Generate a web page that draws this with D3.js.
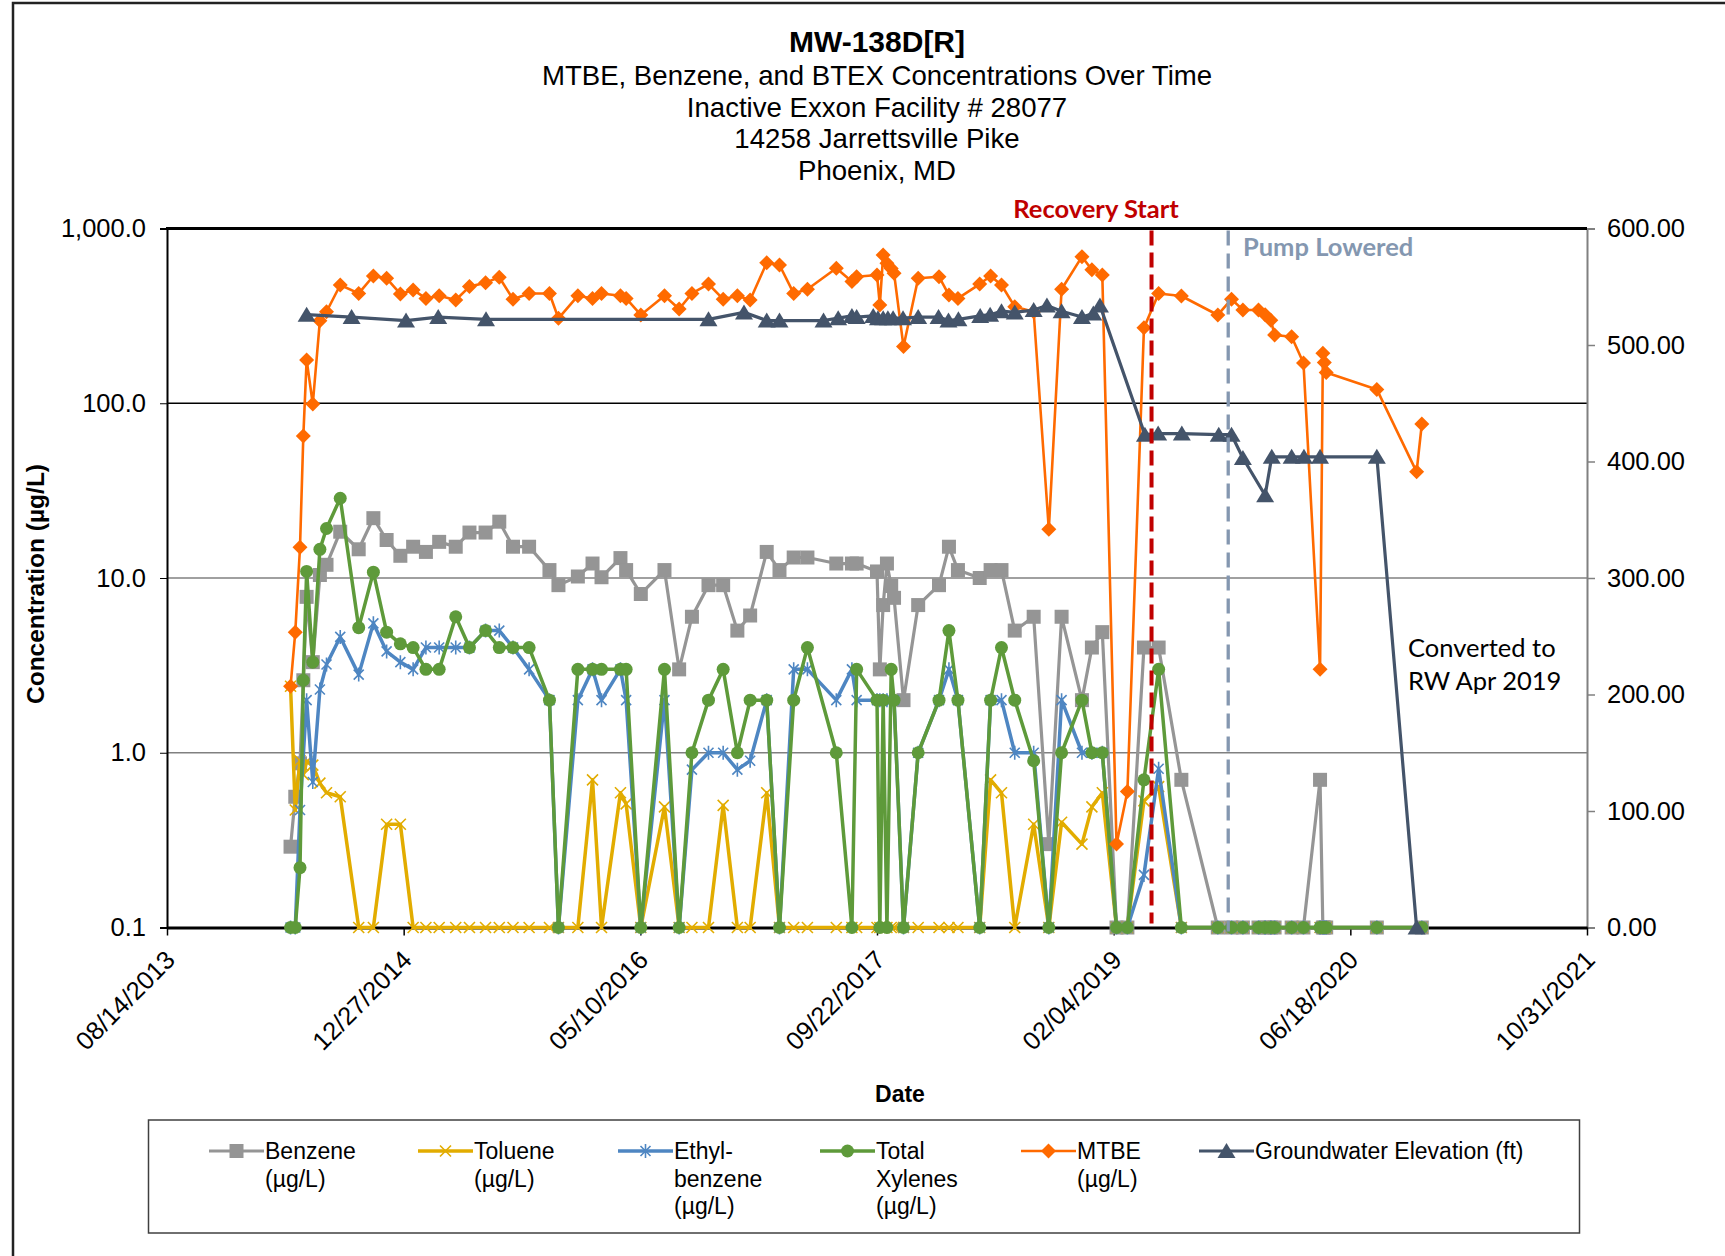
<!DOCTYPE html>
<html>
<head>
<meta charset="utf-8">
<script src="https://cdn.jsdelivr.net/npm/d3@7"></script>
<style>
  body { margin: 0; background: #fff; }
  svg { display: block; }
</style>
</head>
<body>
<svg id="chart" width="1725" height="1256"></svg>
<script>
// sampling events (lab analytes share the same dates)
const sampleDates = [
  "2014-05-02","2014-05-12","2014-05-22","2014-05-29","2014-06-05","2014-06-18","2014-07-03","2014-07-17","2014-08-15","2014-09-23",
  "2014-10-24","2014-11-21","2014-12-20","2015-01-16","2015-02-12","2015-03-12","2015-04-16","2015-05-15","2015-06-18","2015-07-17",
  "2015-08-15","2015-09-18","2015-10-31","2015-11-19","2015-12-30","2016-01-30","2016-02-18","2016-03-29","2016-04-10","2016-05-11",
  "2016-06-30","2016-07-31","2016-08-27","2016-10-01","2016-11-01","2016-12-01","2016-12-28","2017-02-01","2017-02-28","2017-03-30",
  "2017-04-28","2017-06-28","2017-07-31","2017-08-10","2017-09-22","2017-09-28","2017-10-05","2017-10-13","2017-10-22","2017-10-28",
  "2017-11-17","2017-12-18","2018-01-31","2018-02-21","2018-03-12","2018-04-27","2018-05-20","2018-06-12","2018-07-10","2018-08-19",
  "2018-09-20","2018-10-17","2018-11-29","2018-12-20","2019-01-11","2019-02-10","2019-03-05","2019-04-09","2019-05-10","2019-06-27",
  "2019-09-12","2019-10-11","2019-11-04","2019-12-07","2019-12-21","2020-01-02","2020-01-10","2020-02-15","2020-03-11","2020-04-15",
  "2020-04-21","2020-04-24","2020-04-28","2020-08-13","2020-11-05","2020-11-16"
];

const benzene = [
  0.29,0.56,0.87,2.6,7.8,3.3,10.4,11.9,18.4,14.6,
  22,16.5,13.4,15.1,14.1,16.1,15.1,18.2,18.2,21,
  15.1,15.1,11.1,9.1,10.2,12.1,10.1,13,11.1,8.1,
  11.1,3.0,6.0,9.1,9.1,5.0,6.1,14.1,11.1,13.1,
  13.1,12.1,12.1,12.1,10.9,3.0,7.0,12.1,9.0,7.7,
  2.0,7.0,9.1,15.1,11.1,10.0,11.1,11.1,5.0,6.0,
  0.30,6.0,2.0,4.0,4.9,0.1,0.1,4.0,4.0,0.7,
  0.1,0.1,0.1,0.1,0.1,0.1,0.1,0.1,0.1,0.7,
  0.1,0.1,0.1,0.1,null,0.1
];

const toluene = [
  2.4,0.47,0.9,0.75,0.89,0.85,0.67,0.59,0.56,0.1,
  0.1,0.39,0.39,0.1,0.1,0.1,0.1,0.1,0.1,0.1,
  0.1,0.1,0.1,0.1,0.1,0.7,0.1,0.59,0.51,0.1,
  0.49,0.1,0.1,0.1,0.5,0.1,0.1,0.59,0.1,0.1,
  0.1,0.1,0.1,0.1,0.1,0.1,0.1,0.1,0.1,0.1,
  0.1,0.1,0.1,0.1,0.1,0.1,0.7,0.59,0.1,0.39,
  0.1,0.4,0.30,0.49,0.59,0.1,0.1,0.53,0.64,0.1,
  0.1,0.1,0.1,0.1,0.1,0.1,0.1,0.1,0.1,0.1,
  0.1,0.1,0.1,0.1,null,0.1
];

const ethylbenzene = [
  0.1,0.1,0.47,null,2.0,0.68,2.3,3.2,4.6,2.8,
  5.5,3.8,3.3,3.0,4.0,4.0,4.0,4.0,5.0,5.0,
  4.0,3.0,2.0,0.1,2.0,3.0,2.0,3.0,2.0,0.1,
  2.0,0.1,0.8,1.0,1.0,0.8,0.9,2.0,0.1,3.0,
  3.0,2.0,3.0,2.0,2.0,2.0,2.0,2.0,2.0,2.0,
  0.1,1.0,2.0,3.0,2.0,0.1,2.0,2.0,1.0,1.0,
  0.1,2.0,1.0,1.0,1.0,0.1,0.1,0.2,0.81,0.1,
  0.1,0.1,0.1,0.1,0.1,0.1,0.1,0.1,0.1,0.1,
  0.1,0.1,0.1,0.1,null,0.1
];

const xylenes = [
  0.1,0.1,0.22,2.6,10.9,3.3,14.6,19.2,28.6,5.2,
  10.8,4.9,4.2,4.0,3.0,3.0,6.0,4.0,5.0,4.0,
  4.0,4.0,2.0,0.1,3.0,3.0,3.0,3.0,3.0,0.1,
  3.0,0.1,1.0,2.0,3.0,1.0,2.0,2.0,0.1,2.0,
  4.0,1.0,0.1,3.0,2.0,0.1,2.0,0.1,3.0,2.0,
  0.1,1.0,2.0,5.0,2.0,0.1,2.0,4.0,2.0,0.9,
  0.1,1.0,2.0,1.0,1.0,0.1,0.1,0.7,3.0,0.1,
  0.1,0.1,0.1,0.1,0.1,0.1,0.1,0.1,0.1,0.1,
  0.1,0.1,0.1,0.1,null,0.1
];

const mtbe = [
  2.4,4.9,15,65,177,99,297,334,475,425,
  535,519,422,445,398,412,390,465,490,526,
  394,425,425,306,412,398,425,412,398,320,
  412,346,425,481,394,412,390,637,618,425,
  449,592,497,530,542,365,705,632,590,555,
  211,519,530,416,398,481,535,475,357,334,
  19,449,690,580,542,0.30,0.60,270,425,411,
  320,394,342,342,321,299,246,240,170,3.0,
  193,171,150,120,40.5,76
];

// groundwater gauging (secondary axis)
const gwDates = [
  "2014-06-05","2014-09-08","2015-01-01","2015-03-10","2015-06-19","2016-10-01","2016-12-15","2017-02-01","2017-02-28","2017-06-01",
  "2017-07-02","2017-07-31","2017-08-10","2017-09-14","2017-09-24","2017-10-05","2017-10-15","2017-10-26","2017-11-16","2017-12-18",
  "2018-01-30","2018-02-20","2018-03-13","2018-04-28","2018-05-19","2018-06-12","2018-07-10","2018-08-19","2018-09-16","2018-10-17",
  "2018-11-29","2018-12-23","2019-01-06","2019-04-11","2019-05-09","2019-06-28","2019-09-14","2019-10-11","2019-11-04","2019-12-21",
  "2020-01-04","2020-02-15","2020-03-12","2020-04-15","2020-08-13","2020-11-05"
];
const gwElev = [
  526,524,521,524,522,522,528,521,521,521,
  523,525,524,525,523,523,523,523,523,524,
  524,521,522,525,526,529,528,530,534,529,
  524,527,534,423,424,424,423,423,403,371,
  404,404,404,404,404,0
];

const leftTicks = [0.1, 1, 10, 100, 1000];
const rightTicks = [0, 100, 200, 300, 400, 500, 600];
const dateTicks = ["08/14/2013","12/27/2014","05/10/2016","09/22/2017","02/04/2019","06/18/2020","10/31/2021"];

const recoveryStart = "2019-04-25";
const pumpLowered = "2019-10-04";

const titleLines = ["MTBE, Benzene, and BTEX Concentrations Over Time", "Inactive Exxon Facility # 28077", "14258 Jarrettsville Pike", "Phoenix, MD"];

const parseIso = d3.timeParse("%Y-%m-%d");
const parseUs = d3.timeParse("%m/%d/%Y");
const fmtUs = d3.timeFormat("%m/%d/%Y");

const svg = d3.select("#chart");
const arial = "'Liberation Sans', Arial, sans-serif";
const calibri = "Lato, 'Open Sans', sans-serif";

const L = 167, R = 1587, T = 228.5, B = 927.5;

const tickDates = dateTicks.map(parseUs);
const x = d3.scaleTime().domain([tickDates[0], tickDates[tickDates.length - 1]]).range([L, R]);
const y = d3.scaleLog().domain([0.1, 1000]).range([B, T]);
const y2 = d3.scaleLinear().domain([0, 600]).range([B, T]);

// outer frame
svg.append("rect").attr("x", 13).attr("y", 3).attr("width", 1800).attr("height", 1400)
  .attr("fill", "#fff").attr("stroke", "#222").attr("stroke-width", 2.5);

// titles
svg.append("text").attr("x", (L + R) / 2).attr("y", 52).attr("text-anchor", "middle")
  .attr("font-family", arial).attr("font-weight", "bold").attr("font-size", 30).text("MW-138D[R]");
titleLines.forEach((t, i) => {
  svg.append("text").attr("x", (L + R) / 2).attr("y", 85 + i * 31.7).attr("text-anchor", "middle")
    .attr("font-family", arial).attr("font-size", 27.6).text(t);
});

// gridlines
const grid = svg.append("g");
[1, 10, 100].forEach(v => {
  grid.append("line").attr("x1", L).attr("x2", R).attr("y1", y(v)).attr("y2", y(v))
    .attr("stroke", v === 100 ? "#000" : "#808080").attr("stroke-width", 1.5);
});

// axes
const gl = svg.append("g").attr("transform", `translate(${L},0)`)
  .call(d3.axisLeft(y).tickValues(leftTicks).tickFormat(d3.format(",.1f")).tickSize(7).tickPadding(14));
gl.select(".domain").attr("stroke", "#000").attr("stroke-width", 2);
gl.selectAll("text").attr("font-family", arial).attr("font-size", 25.5).attr("fill", "#000");

const gr = svg.append("g").attr("transform", `translate(${R},0)`)
  .call(d3.axisRight(y2).tickValues(rightTicks).tickFormat(d3.format(".2f")).tickSize(8).tickPadding(12));
gr.select(".domain").attr("stroke", "#808080").attr("stroke-width", 2);
gr.selectAll(".tick line").attr("stroke", "#808080").attr("stroke-width", 1.5);
gr.selectAll("text").attr("font-family", arial).attr("font-size", 25.5).attr("fill", "#000");

const gb = svg.append("g").attr("transform", `translate(0,${B})`)
  .call(d3.axisBottom(x).tickValues(tickDates).tickFormat(fmtUs).tickSize(8).tickSizeOuter(0));
gb.select(".domain").attr("stroke", "#000").attr("stroke-width", 3);
gb.selectAll(".tick line").attr("stroke", "#000").attr("stroke-width", 1.5);
gb.selectAll("text").attr("font-family", arial).attr("font-size", 25.5).attr("fill", "#000")
  .attr("text-anchor", "end").attr("dy", 0).attr("y", 0)
  .attr("transform", "translate(9,34) rotate(-45)");

// top border of plot
svg.append("line").attr("x1", L - 1).attr("x2", R).attr("y1", T).attr("y2", T)
  .attr("stroke", "#000").attr("stroke-width", 3);

// axis titles
svg.append("text").attr("transform", "translate(44,584) rotate(-90)").attr("text-anchor", "middle")
  .attr("font-family", arial).attr("font-weight", "bold").attr("font-size", 24.5).text("Concentration (µg/L)");
svg.append("text").attr("x", 900).attr("y", 1102).attr("text-anchor", "middle")
  .attr("font-family", arial).attr("font-weight", "bold").attr("font-size", 23).text("Date");

// markers
const markerShapes = {
  square: g => g.append("path").attr("d", "M-7,-7h14v14h-14Z"),
  diamond: g => g.append("path").attr("d", "M0,-7.5L7.5,0L0,7.5L-7.5,0Z"),
  triangle: g => g.append("path").attr("d", "M0,-8L9,7L-9,7Z"),
  circle: g => g.append("circle").attr("r", 6.5),
  cross: g => g.append("path").attr("d", "M-5.5,-5.5L5.5,5.5M5.5,-5.5L-5.5,5.5").attr("fill", "none").attr("stroke-width", 1.6),
  star: g => g.append("path").attr("d", "M-5,-5L5,5M5,-5L-5,5M0,-7L0,7").attr("fill", "none").attr("stroke-width", 1.6)
};

const series = [
  { name: ["Benzene", "(µg/L)"], vals: benzene, color: "#959595", width: 3.2, shape: "square" },
  { name: ["Toluene", "(µg/L)"], vals: toluene, color: "#E2AC00", width: 3.5, shape: "cross" },
  { name: ["Ethyl-", "benzene", "(µg/L)"], vals: ethylbenzene, color: "#4E86C2", width: 3.5, shape: "star" },
  { name: ["Total", "Xylenes", "(µg/L)"], vals: xylenes, color: "#5E9A3A", width: 3.5, shape: "circle" },
  { name: ["MTBE", "(µg/L)"], vals: mtbe, color: "#FF6A00", width: 2.6, shape: "diamond" }
];

function drawMarker(g, s, px, py) {
  const m = g.append("g").attr("transform", `translate(${px},${py})`);
  markerShapes[s.shape](m);
  m.selectAll("*").each(function () {
    const el = d3.select(this);
    if (el.attr("fill") === "none") el.attr("stroke", s.color);
    else el.attr("fill", s.color);
  });
}

series.forEach(s => {
  const pts = sampleDates.map((d, i) => [parseIso(d), s.vals[i]]).filter(p => p[1] != null);
  const g = svg.append("g");
  g.append("path").datum(pts)
    .attr("d", d3.line().x(p => x(p[0])).y(p => y(p[1])))
    .attr("fill", "none").attr("stroke", s.color).attr("stroke-width", s.width).attr("stroke-linejoin", "round");
  pts.forEach(p => drawMarker(g, s, x(p[0]), y(p[1])));
});

const gwSeries = { name: ["Groundwater Elevation (ft)"], color: "#44546A", width: 3.2, shape: "triangle" };
const gwPts = gwDates.map((d, i) => [parseIso(d), gwElev[i]]);
const gwG = svg.append("g");
gwG.append("path").datum(gwPts)
  .attr("d", d3.line().x(p => x(p[0])).y(p => y2(p[1])))
  .attr("fill", "none").attr("stroke", gwSeries.color).attr("stroke-width", gwSeries.width).attr("stroke-linejoin", "round");
gwPts.forEach(p => drawMarker(gwG, gwSeries, x(p[0]), y2(p[1])));

// event lines
const xr = x(parseIso(recoveryStart)), xp = x(parseIso(pumpLowered));
svg.append("line").attr("x1", xr).attr("x2", xr).attr("y1", T + 2).attr("y2", B - 4)
  .attr("stroke", "#C00000").attr("stroke-width", 4).attr("stroke-dasharray", "15,7");
svg.append("line").attr("x1", xp).attr("x2", xp).attr("y1", T + 2).attr("y2", B + 4)
  .attr("stroke", "#8497B0").attr("stroke-width", 3.3).attr("stroke-dasharray", "15,8");

svg.append("text").attr("x", 1096).attr("y", 218).attr("text-anchor", "middle")
  .attr("font-family", calibri).attr("font-weight", "bold").attr("font-size", 25.5).attr("fill", "#C00000").text("Recovery Start");
svg.append("text").attr("x", 1243).attr("y", 256)
  .attr("font-family", calibri).attr("font-weight", "bold").attr("font-size", 25.5).attr("fill", "#8497B0").text("Pump Lowered");
svg.append("text").attr("x", 1408).attr("y", 657)
  .attr("font-family", calibri).attr("font-size", 25.5).attr("fill", "#000").text("Converted to");
svg.append("text").attr("x", 1408).attr("y", 690)
  .attr("font-family", calibri).attr("font-size", 25.5).attr("fill", "#000").text("RW Apr 2019");

// legend
svg.append("rect").attr("x", 148.5).attr("y", 1120).attr("width", 1431).attr("height", 113)
  .attr("fill", "#fff").attr("stroke", "#404040").attr("stroke-width", 1.5);
const legendX = [209, 418, 618, 820, 1021, 1199];
[...series, gwSeries].forEach((s, i) => {
  const g = svg.append("g");
  const lx = legendX[i], ly = 1151;
  g.append("line").attr("x1", lx).attr("x2", lx + 55).attr("y1", ly).attr("y2", ly)
    .attr("stroke", s.color).attr("stroke-width", s.width);
  drawMarker(g, s, lx + 27.5, ly);
  s.name.forEach((t, j) => {
    g.append("text").attr("x", lx + 56).attr("y", ly + 8 + j * 27.5)
      .attr("font-family", arial).attr("font-size", 23).attr("fill", "#000").text(t);
  });
});
</script>
</body>
</html>
